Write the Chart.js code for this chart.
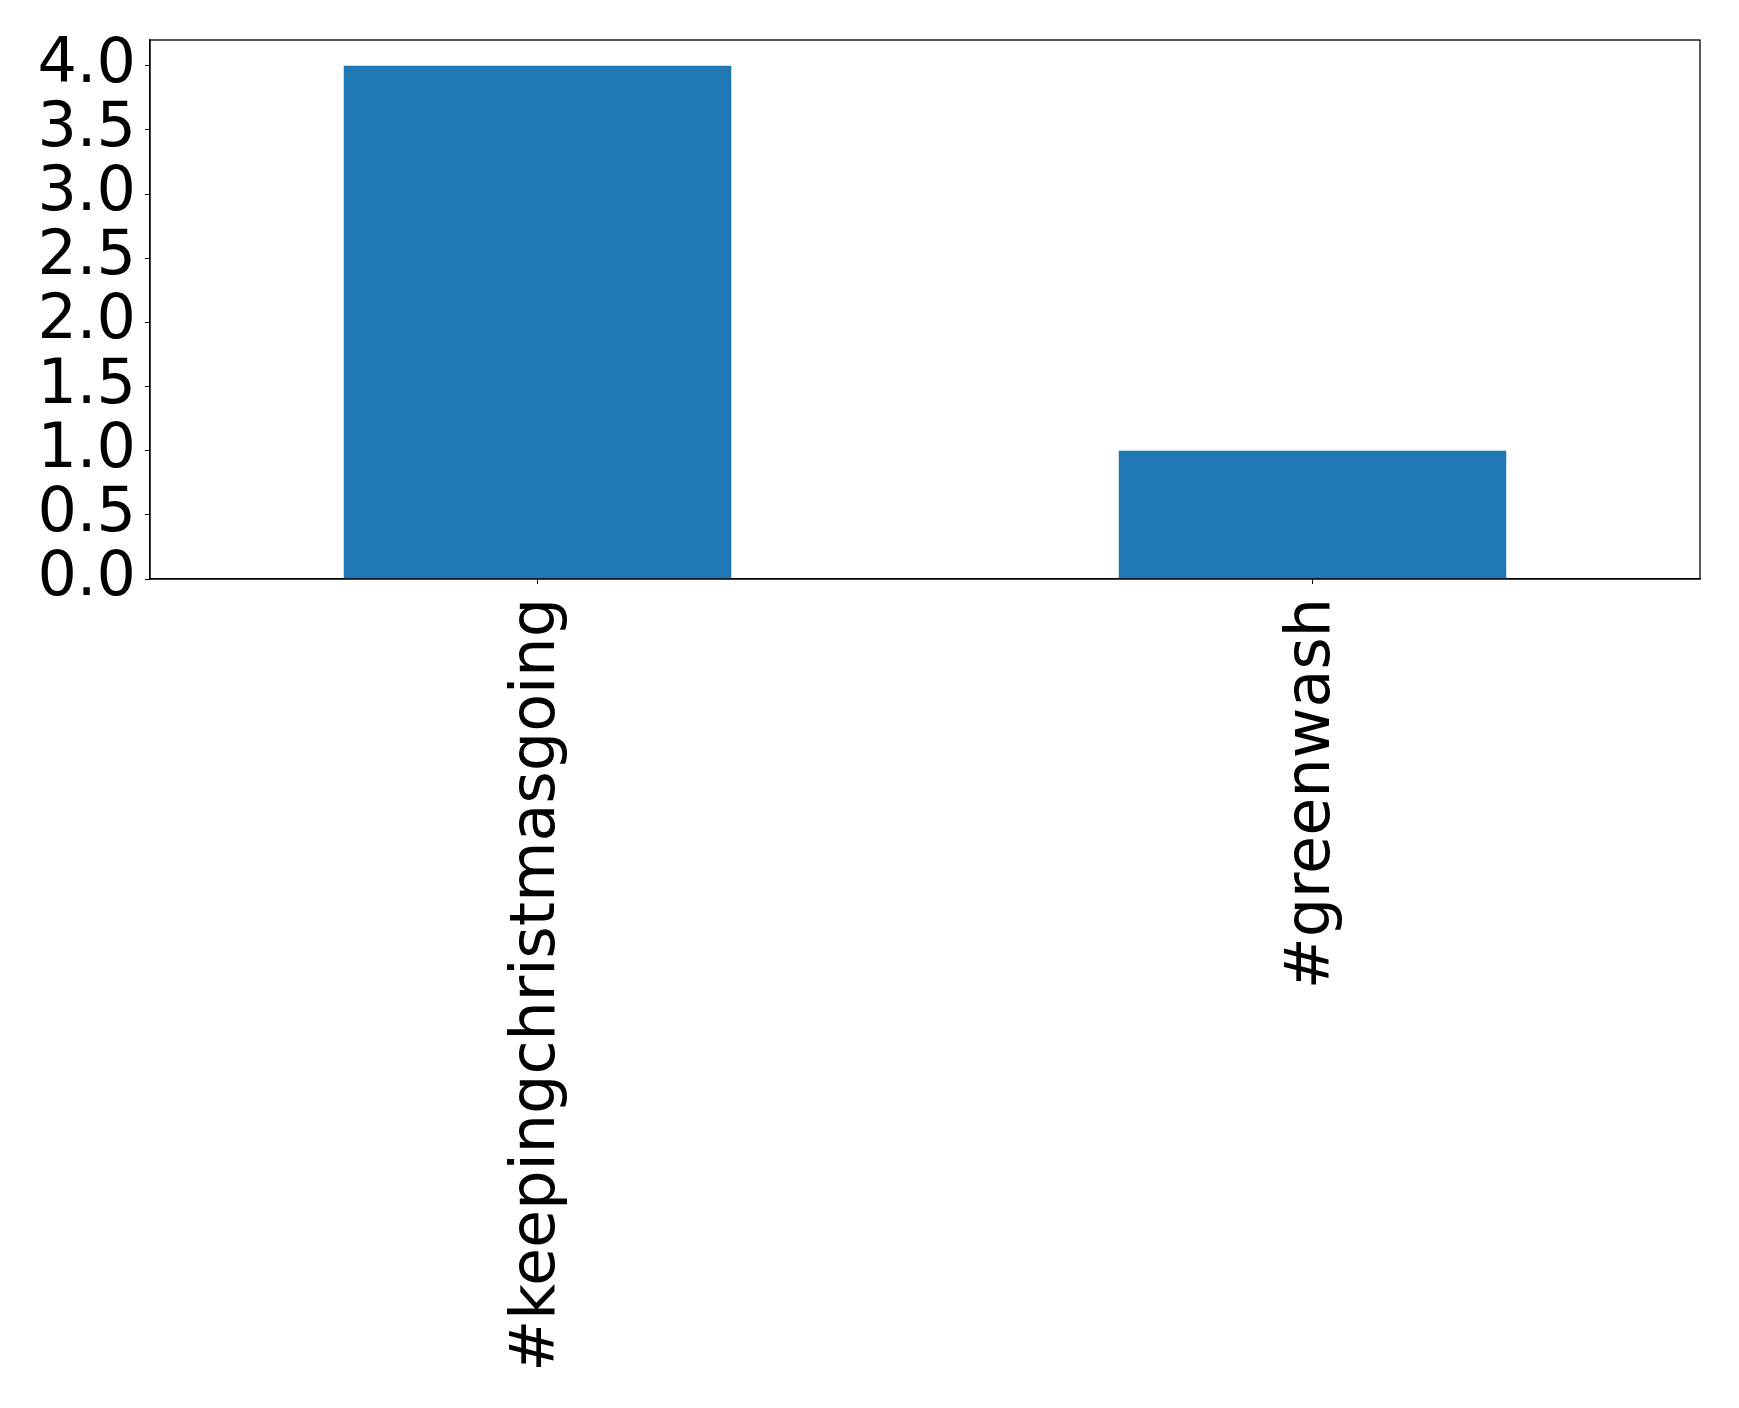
<!DOCTYPE html>
<html>
<head>
<meta charset="utf-8">
<script src="https://cdn.jsdelivr.net/npm/chart.js@4"></script>
<style>
  html, body { margin: 0; padding: 0; background: #fff; }
  #wrap { width: 1739px; height: 1408px; }
</style>
</head>
<body>
<div id="wrap"><canvas id="barChart"></canvas></div>
<script>
const categories = ['#keepingchristmasgoing', '#greenwash'];
const counts = [4, 1];
const yTicks = [0, 0.5, 1, 1.5, 2, 2.5, 3, 3.5, 4];

// draws the top and right edges of the axes box
const frame = {
    id: 'frame',
    afterDraw(chart) {
        const a = chart.chartArea;
        const c = chart.ctx;
        c.save();
        c.strokeStyle = '#000';
        c.lineWidth = 1.3;
        c.strokeRect(a.left, a.top, a.right - a.left, a.bottom - a.top);
        c.restore();
    }
};

document.addEventListener('DOMContentLoaded', function() {
    const ctx = document.getElementById('barChart').getContext('2d');
    const font = { family: 'DejaVu Sans', size: 62 };
    new Chart(ctx, {
        type: 'bar',
        data: {
            labels: categories,
            datasets: [{
                data: counts,
                backgroundColor: '#1f77b4',
                categoryPercentage: 1.0,
                barPercentage: 0.5
            }]
        },
        options: {
            responsive: true,
            maintainAspectRatio: false,
            animation: false,
            layout: { padding: { left: 0, top: 40, right: 39, bottom: 0 } },
            plugins: { legend: { display: false }, tooltip: { enabled: false } },
            scales: {
                x: {
                    // long rotated labels: keep the axis box at the reference size
                    afterFit: axis => { axis.height = 829; },
                    grid: { offset: false, drawOnChartArea: false, tickLength: 5, color: '#000' },
                    border: { color: '#000', width: 1.3 },
                    ticks: { color: '#000', font: font, minRotation: 90, maxRotation: 90, padding: 14 }
                },
                y: {
                    min: 0,
                    max: 4.2,
                    afterBuildTicks: axis => { axis.ticks = yTicks.map(v => ({ value: v })); },
                    afterFit: axis => {
                        axis.width = 150;
                        axis.paddingTop = 0;
                        axis.paddingBottom = 0;
                    },
                    grid: { drawOnChartArea: false, tickLength: 5, color: '#000' },
                    border: { color: '#000', width: 1.3 },
                    ticks: { color: '#000', font: font, padding: 9, autoSkip: false, callback: v => v.toFixed(1) }
                }
            }
        },
        plugins: [frame]
    });
});
</script>
</body>
</html>
